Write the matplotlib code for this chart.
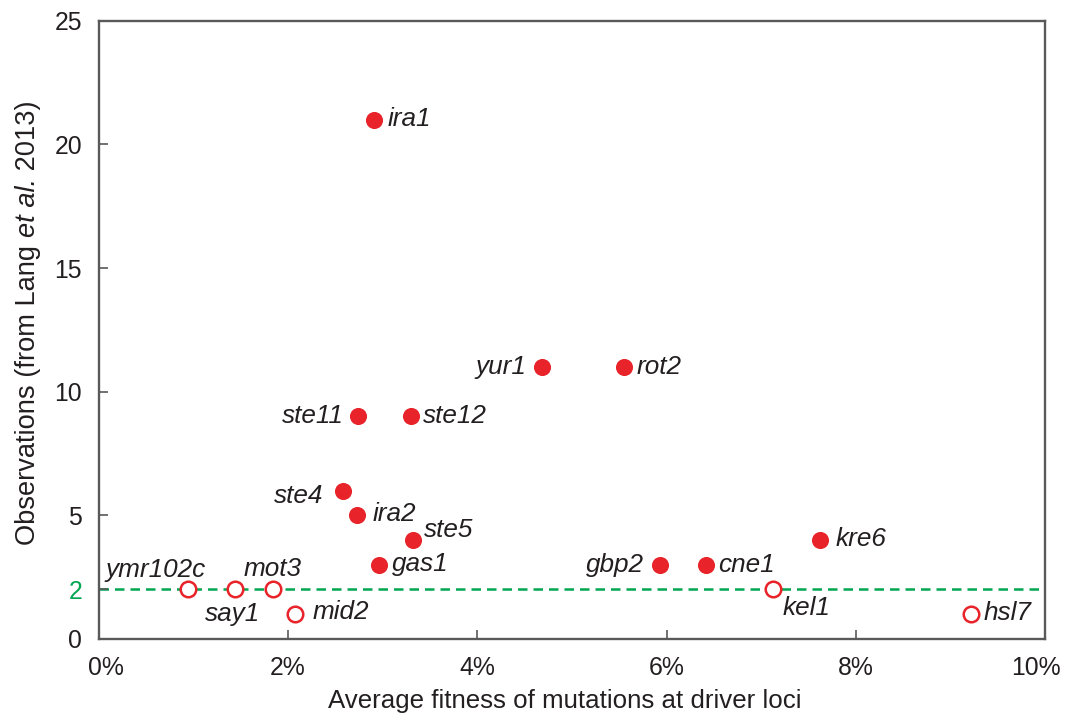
import matplotlib
matplotlib.use("Agg")
import matplotlib.pyplot as plt
import matplotlib.transforms as mtransforms
from matplotlib.ticker import FuncFormatter

plt.rcParams['font.family'] = ['Liberation Sans', 'DejaVu Sans']

# Driver loci observed more than twice (filled markers)
frequent_genes = ["ira1", "yur1", "rot2", "ste11", "ste12", "ste4", "ira2",
                  "ste5", "gas1", "gbp2", "cne1", "kre6"]
frequent_fitness = [2.91, 4.68, 5.55, 2.74, 3.30, 2.58, 2.73,
                    3.32, 2.96, 5.93, 6.42, 7.62]  # percent
frequent_obs = [21, 11, 11, 9, 9, 6, 5, 4, 3, 3, 3, 4]

# Driver loci observed at most twice (open markers)
rare_genes = ["ymr102c", "say1", "mot3", "mid2", "kel1", "hsl7"]
rare_fitness = [0.94, 1.44, 1.84, 2.07, 7.12, 9.22]  # percent
rare_obs = [2, 2, 2, 1, 2, 1]

threshold = 2

x_ticks = [0, 2, 4, 6, 8, 10]
y_ticks = [0, 2, 5, 10, 15, 20, 25]

x_title = "Average fitness of mutations at driver loci"
# y title pieces with their font style
y_title = [("Observations (from Lang ", "normal"), ("et al.", "italic"),
           (" 2013)", "normal")]

# label placement: (dx px, dy px to baseline, horizontal alignment)
label_place = {
    "ira1": (13, -6, "left"), "yur1": (-15, -7, "right"),
    "rot2": (13, -7, "left"), "ste11": (-14, -7, "right"),
    "ste12": (12, -7, "left"), "ste4": (-20, -12, "right"),
    "ira2": (16, -6, "left"), "ste5": (11, 3, "left"),
    "gas1": (13, -6, "left"), "gbp2": (-16, -7, "right"),
    "cne1": (12, -7, "left"), "kre6": (16, -6, "left"),
    "ymr102c": (18, 12, "right"), "say1": (-2, -32, "center"),
    "mot3": (0, 13, "center"), "mid2": (18, -5, "left"),
    "kel1": (10, -26, "left"), "hsl7": (12, -6, "left"),
}

red = "#e8232a"
green = "#00a651"
ink = "#231f20"
frame = "#595959"

fig = plt.figure(figsize=(10.67, 7.17), dpi=100)
ax = fig.add_axes([0.0925, 0.109, 0.887, 0.862])

ax.axhline(threshold, color=green, lw=1.8, ls=(0, (3.8, 2.4)), zorder=1)

ax.plot(frequent_fitness, frequent_obs, "o", ms=12.3, color=red, mec=red,
        mew=0, zorder=3)
ax.plot(rare_fitness, rare_obs, "o", ms=11.2, mfc="white", mec=red,
        mew=1.8, zorder=3)

for genes, xs, ys in ((frequent_genes, frequent_fitness, frequent_obs),
                      (rare_genes, rare_fitness, rare_obs)):
    for g, xv, yv in zip(genes, xs, ys):
        dx, dy, ha = label_place[g]
        ax.annotate(g, (xv, yv), xytext=(dx, dy), textcoords="offset pixels",
                    ha=ha, va="baseline", fontsize=18.8, style="italic",
                    color=ink, zorder=4)

ax.set_xlim(0, 10)
ax.set_ylim(0, 25)
ax.set_xticks(x_ticks)
ax.set_yticks(y_ticks)
ax.xaxis.set_major_formatter(FuncFormatter(lambda v, p: f"{v:.0f}%"))
ax.tick_params(direction="in", length=6.5, width=1.2, color=frame,
               labelsize=17.8, labelcolor=ink, pad=12)
for lab in ax.get_yticklabels():
    if lab.get_text() == str(threshold):
        lab.set_color(green)

# keep the end labels of the x axis inside the frame edges
xt = ax.xaxis.get_major_ticks()
for tick, shift in ((xt[0], 0.07), (xt[-1], -0.09)):
    lab = tick.label1
    lab.set_transform(lab.get_transform() +
                      mtransforms.ScaledTranslation(shift, 0, fig.dpi_scale_trans))

for s in ax.spines.values():
    s.set_color(frame)
    s.set_linewidth(1.7)

ax.set_xlabel(x_title, fontsize=18.6, color=ink, labelpad=7)
ax.xaxis.label.set_x(0.492)

# vertical title built from normal and italic runs, stacked bottom to top
renderer = fig.canvas.get_renderer()
W, H = fig.bbox.width, fig.bbox.height
base_x = 35 / W
pos_px = 545.0  # from top of the figure
for txt, style in y_title:
    t = fig.text(base_x, 1 - pos_px / H, txt, rotation=90,
                 rotation_mode="anchor", ha="left", va="baseline",
                 fontsize=19.6, style=style, color=ink)
    ext = t.get_window_extent(renderer)
    pos_px -= ext.height

fig.savefig("out.png", dpi=100)
